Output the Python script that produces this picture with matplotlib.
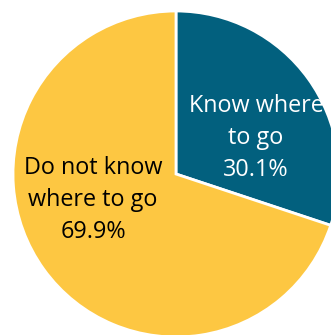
import matplotlib.pyplot as plt

labels = ["Know where\nto go", "Do not know\nwhere to go"]
shares = [30.1, 69.9]
colors = ["#02607E", "#FDC742"]
text_colors = ["white", "black"]

plt.rcParams["font.family"] = ["Open Sans", "DejaVu Sans"]

fig = plt.figure(figsize=(3.31, 3.35), dpi=100)
ax = fig.add_axes([0, 0, 1, 1])

# pie radius 1 -> 163 px; centre at pixel (176, 174) from the top-left
scale = 163.0

ax.pie(shares, colors=colors, startangle=90, counterclock=False,
       radius=1, wedgeprops={"edgecolor": "white", "linewidth": 2})
ax.set_xlim(-176 / scale, (331 - 176) / scale)
ax.set_ylim(-(335 - 174) / scale, 174 / scale)
ax.set_aspect("auto")
ax.axis("off")

# label centres (offset from pie centre, in pie radii)
label_pos = [(80 / scale, 36 / scale), (-83 / scale, -26 / scale)]
for lab, val, (x, y), c in zip(labels, shares, label_pos, text_colors):
    ax.text(x, y, f"{lab}\n{val:.1f}%", ha="center", va="center",
            color=c, fontsize=16.8, linespacing=1.45)

fig.savefig("out.png", dpi=100)
